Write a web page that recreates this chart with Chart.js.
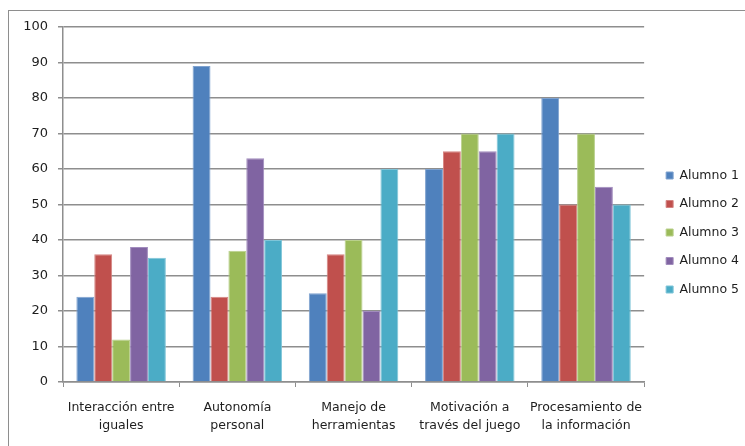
<!DOCTYPE html>
<html>
<head>
<meta charset="utf-8">
<script src="https://cdn.jsdelivr.net/npm/chart.js@4/dist/chart.umd.min.js"></script>
<style>
  html, body { margin: 0; padding: 0; background: #fff; }
  #wrap { width: 745px; height: 446px; position: relative; }
</style>
</head>
<body>
<div id="wrap"><canvas id="grafico" width="745" height="446"></canvas></div>
<script>
var categorias = [
    ["Interacción entre", "iguales"],
    ["Autonomía", "personal"],
    ["Manejo de", "herramientas"],
    ["Motivación a", "través del juego"],
    ["Procesamiento de", "la información"]
];

var alumno1 = [24, 89, 25, 60, 80];
var alumno2 = [36, 24, 36, 65, 50];
var alumno3 = [12, 37, 40, 70, 70];
var alumno4 = [38, 63, 20, 65, 55];
var alumno5 = [35, 40, 60, 70, 50];

var nombres = ["Alumno 1", "Alumno 2", "Alumno 3", "Alumno 4", "Alumno 5"];
var colores = ["#4f81bd", "#c0504d", "#9bbb59", "#8064a2", "#4bacc6"];
var bordes = ["#7fa2cf", "#d58482", "#b9d08c", "#a18cbd", "#7fc5d8"];

var series = [alumno1, alumno2, alumno3, alumno4, alumno5];

var datasets = [];
for (var i = 0; i < series.length; i++) {
    datasets.push({
        label: nombres[i],
        data: series[i],
        backgroundColor: colores[i],
        borderColor: bordes[i],
        borderWidth: 1,
        categoryPercentage: 0.77,
        barPercentage: 1.0
    });
}

// marco exterior del gráfico
var marco = {
    id: "marco",
    beforeDraw: function(chart) {
        var ctx = chart.ctx;
        ctx.save();
        ctx.strokeStyle = "#8e8e8e";
        ctx.lineWidth = 1;
        ctx.strokeRect(8.5, 10.5, 800, 500);
        ctx.restore();
    }
};

// separa un poco la leyenda del área de barras
var moverLeyenda = {
    id: "moverLeyenda",
    afterLayout: function(chart) {
        var ley = chart.legend;
        ley.left += 6;
        ley.right += 6;
        ley.top -= 2;
        ley.bottom -= 2;
    }
};

Chart.defaults.font.family = "'DejaVu Sans', Verdana, sans-serif";
Chart.defaults.font.size = 13;
Chart.defaults.color = "#1e1e1e";

var ctx = document.getElementById("grafico").getContext("2d");
var chart = new Chart(ctx, {
    type: "bar",
    data: {
        labels: categorias,
        datasets: datasets
    },
    options: {
        responsive: false,
        animation: false,
        layout: {
            padding: { left: 10, right: 2, top: 27, bottom: 4 }
        },
        plugins: {
            legend: {
                position: "right",
                align: "center",
                labels: {
                    boxWidth: 7,
                    boxHeight: 7,
                    padding: 16,
                    font: { size: 12.5 }
                }
            },
            tooltip: { enabled: false }
        },
        scales: {
            x: {
                grid: {
                    display: true,
                    drawOnChartArea: false,
                    drawTicks: true,
                    tickLength: 5,
                    color: "#8e8e8e",
                    offset: true
                },
                border: { color: "#8e8e8e", width: 1.5 },
                ticks: {
                    padding: 11,
                    maxRotation: 0,
                    autoSkip: false,
                    font: { size: 12.5, lineHeight: 1.5 }
                },
                afterFit: function(scale) {
                    scale.height = 60;
                }
            },
            y: {
                min: 0,
                max: 100,
                ticks: {
                    stepSize: 10,
                    padding: 10
                },
                grid: {
                    color: "#8e8e8e",
                    lineWidth: 1.5,
                    tickLength: 5
                },
                border: { color: "#8e8e8e", width: 1.5 },
                afterFit: function(scale) {
                    scale.width = 53;
                }
            }
        }
    },
    plugins: [marco, moverLeyenda]
});
</script>
</body>
</html>
